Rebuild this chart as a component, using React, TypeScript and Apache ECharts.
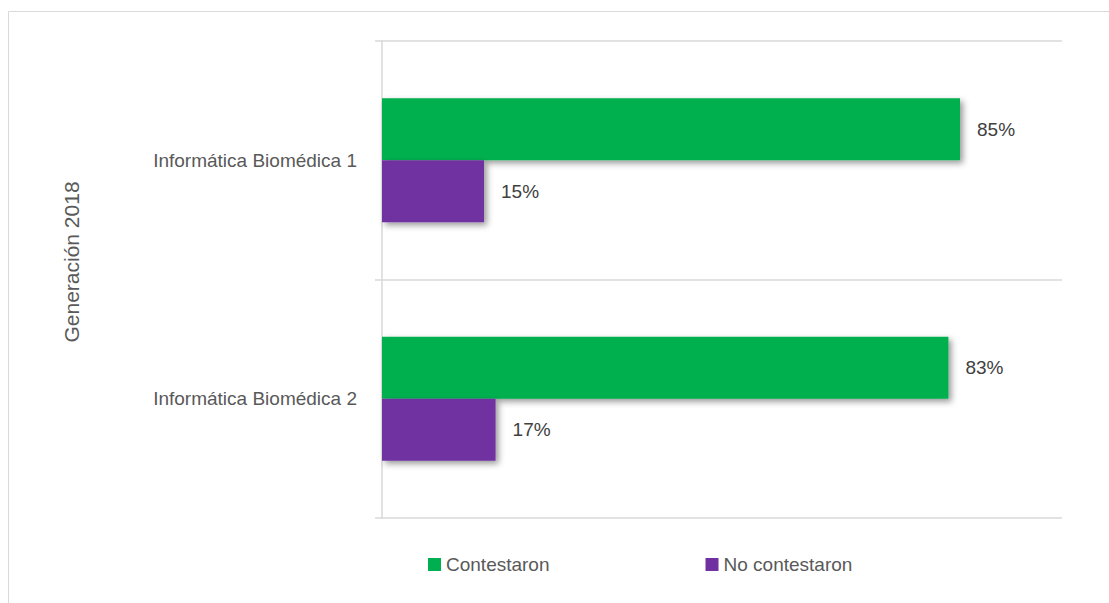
import React, { useEffect, useRef } from "react";
import * as echarts from "echarts";

const categories = ["Informática Biomédica 1", "Informática Biomédica 2"];
const contestaron = [85, 83.3];
const noContestaron = [15, 16.7];
const seriesNames = ["Contestaron", "No contestaron"];
const axisTitle = "Generación 2018";

const FONT = '"Liberation Sans", Arial, sans-serif';

export default function App() {
  const ref = useRef<HTMLDivElement>(null);
  useEffect(() => {
    if (!ref.current) return;
    const chart = echarts.init(ref.current, null, { renderer: "svg" });
    const shadow = {
      shadowBlur: 6,
      shadowColor: "rgba(0,0,0,0.4)",
      shadowOffsetX: 3,
      shadowOffsetY: 3,
    };
    const label = {
      show: true,
      position: "right",
      distance: 17,
      formatter: (p: any) => Math.round(p.value) + "%",
      color: "#404040",
      fontSize: 19,
      fontFamily: FONT,
    };
    chart.setOption({
      animation: false,
      backgroundColor: "#ffffff",
      grid: { left: 382, right: 47, top: 41, bottom: 85 },
      graphic: [
        {
          type: "rect",
          shape: { x: 8.5, y: 11.5, width: 1200, height: 700 },
          style: { fill: "none", stroke: "#d9d9d9", lineWidth: 1 },
          silent: true,
        },
        {
          type: "text",
          x: 71,
          y: 262,
          rotation: Math.PI / 2,
          style: {
            text: axisTitle,
            align: "center",
            verticalAlign: "middle",
            fill: "#595959",
            fontSize: 21,
            fontFamily: FONT,
          },
        },
      ],
      legend: {
        data: seriesNames,
        left: 428,
        top: 555,
        padding: 0,
        icon: "rect",
        itemWidth: 13,
        itemHeight: 13,
        itemGap: 156,
        textStyle: { color: "#595959", fontSize: 19, fontFamily: FONT },
      },
      xAxis: {
        type: "value",
        min: 0,
        max: 100,
        show: true,
        axisLine: { show: false },
        axisTick: { show: false },
        axisLabel: { show: false },
        splitLine: { show: false },
      },
      yAxis: {
        type: "category",
        data: categories,
        inverse: true,
        axisLine: { show: true, lineStyle: { color: "#d9d9d9", width: 1.5 } },
        axisTick: { show: true, length: 7, lineStyle: { color: "#d9d9d9", width: 1.5 } },
        splitLine: { show: true, lineStyle: { color: "#d9d9d9", width: 1.5 } },
        axisLabel: { margin: 25, color: "#595959", fontSize: 19, fontFamily: FONT },
      },
      series: [
        {
          name: seriesNames[0],
          type: "bar",
          data: contestaron,
          barWidth: 62,
          barGap: "0%",
          itemStyle: { color: "#00b050", ...shadow },
          label,
        },
        {
          name: seriesNames[1],
          type: "bar",
          data: noContestaron,
          barWidth: 62,
          barGap: "0%",
          itemStyle: { color: "#7030a0", ...shadow },
          label,
        },
      ],
    });
    return () => chart.dispose();
  }, []);
  return (
    <div
      ref={ref}
      style={{ position: "absolute", left: 0, top: 0, width: 1109, height: 603 }}
    />
  );
}
